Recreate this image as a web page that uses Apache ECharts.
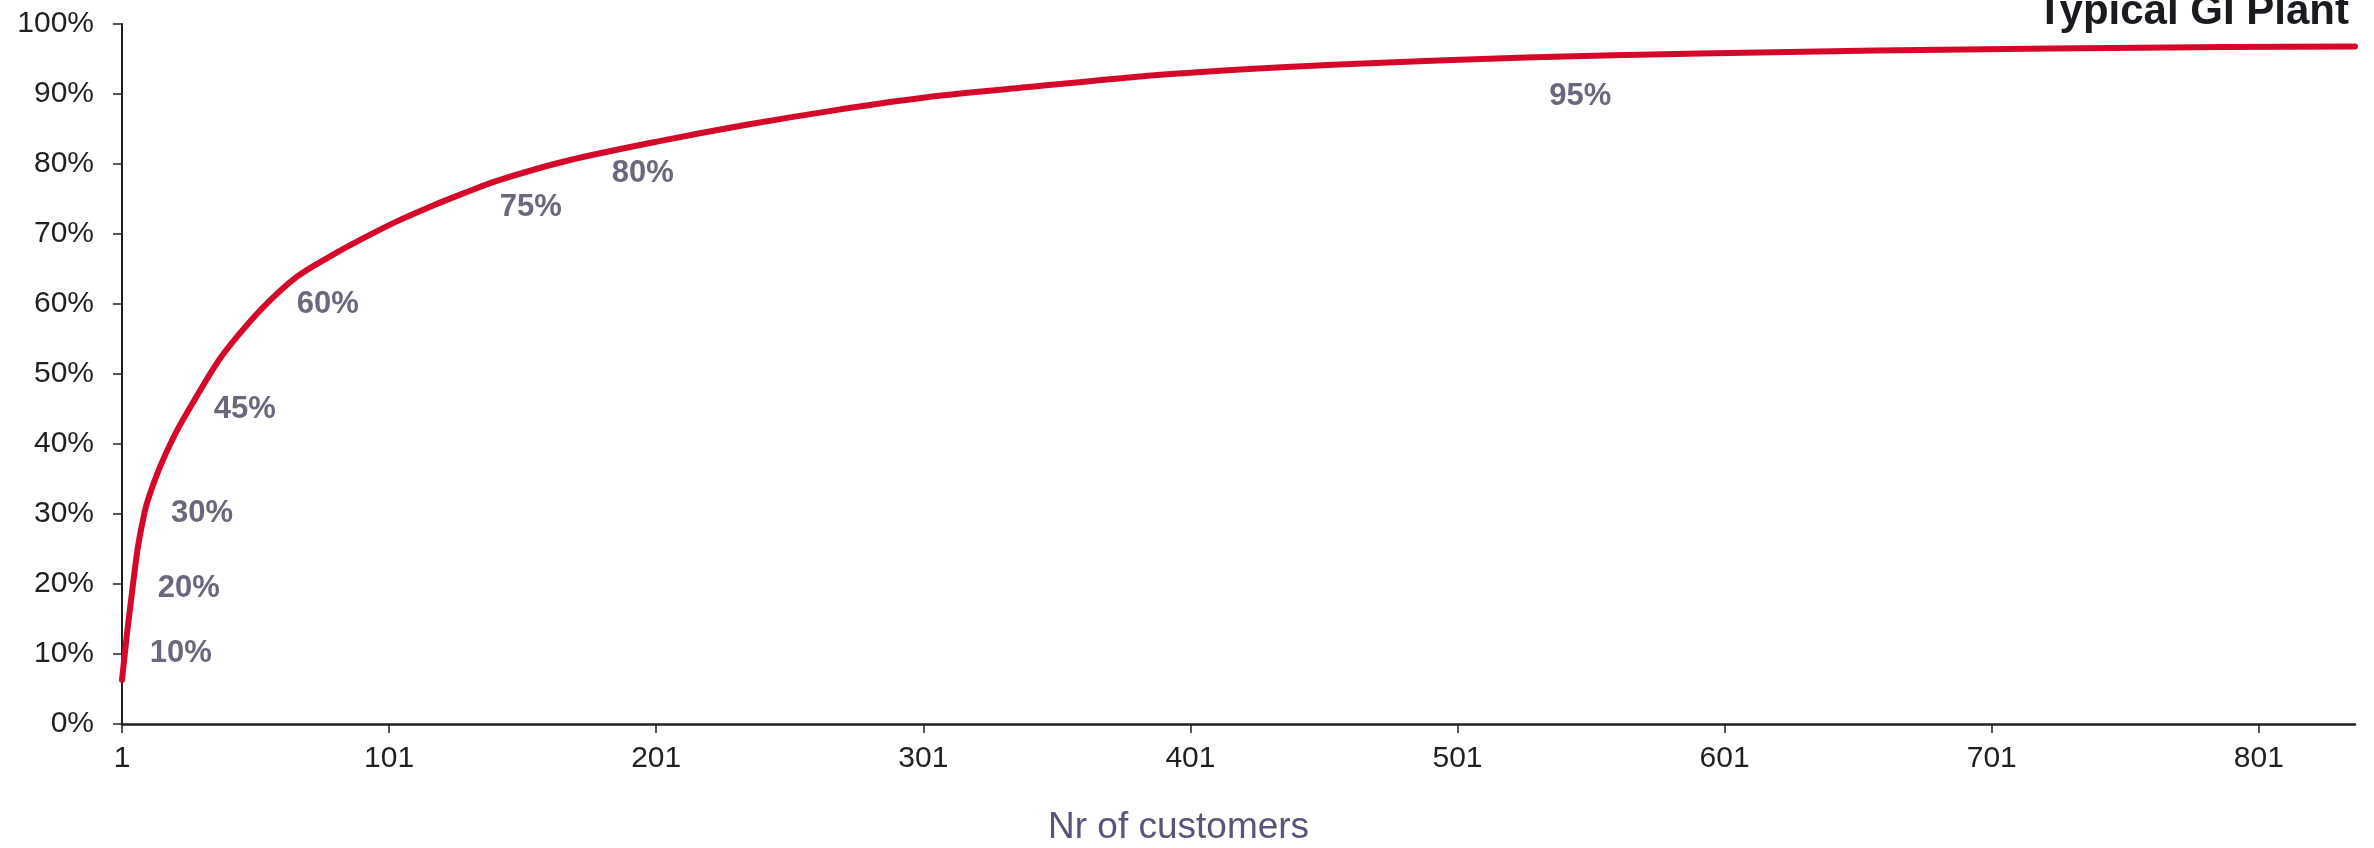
<!DOCTYPE html>
<html>
<head>
<meta charset="utf-8">
<script src="https://cdn.jsdelivr.net/npm/echarts@6/dist/echarts.min.js"></script>
<style>
html,body{margin:0;padding:0;background:#fff;}
#chart{width:2374px;height:848px;}
</style>
</head>
<body>
<div id="chart"></div>
<script>
// Customer number (x) and cumulative share % (y) of the curve
var customers = [1, 2.9, 4.4, 6.8, 9.1, 10.7, 15.3, 21, 26.6, 36.6, 44.0, 54.0, 66.5, 78.9, 91.4, 103.9, 116.4, 128.8, 141.3, 168, 201.3, 234.8, 268.2, 301.6, 329.7, 395, 461, 526.5, 592, 657.7, 723, 789, 837];
var cumulativeShare = [6.3, 13.0, 17.7, 24.9, 29.6, 32.0, 36.8, 41.5, 45.3, 51.6, 55.3, 59.6, 63.9, 66.8, 69.4, 71.8, 73.9, 75.8, 77.6, 80.5, 83.2, 85.6, 87.7, 89.5, 90.6, 92.9, 94.3, 95.2, 95.8, 96.2, 96.5, 96.7, 96.8];

// Annotation labels (anchored in data units)
var labelText = ['10%', '20%', '30%', '45%', '60%', '75%', '80%', '95%'];
var labelX = [23, 26, 31, 47, 78, 154, 196, 547];
var labelY = [10.1, 19.4, 30.1, 45.0, 59.9, 73.8, 78.7, 89.6];

// Axis ticks
var xTicks = [1, 101, 201, 301, 401, 501, 601, 701, 801];
var xMin = 1, xMax = 837;
var yMin = 0, yMax = 100, yStep = 10;

var titleText = 'Typical GI Plant';
var xAxisName = 'Nr of customers';

var lineData = customers.map(function (c, i) { return [c, cumulativeShare[i]]; });
var labelData = labelX.map(function (x, i) { return { value: [x, labelY[i]], name: labelText[i] }; });

var chart = echarts.init(document.getElementById('chart'), null, { renderer: 'canvas' });
var axisColor = '#231f20';
chart.setOption({
  animation: false,
  backgroundColor: '#ffffff',
  textStyle: { fontFamily: 'Liberation Sans, Arial, sans-serif' },
  grid: { left: 122, right: 19, top: 24, bottom: 124, containLabel: false },
  title: {
    text: titleText,
    right: 25,
    top: -9,
    padding: 0,
    textStyle: { fontSize: 42, fontWeight: 'bold', color: '#1a1a1f', fontFamily: 'Liberation Sans, Arial, sans-serif' }
  },
  graphic: [{
    type: 'text',
    left: 1048,
    top: 809,
    style: { text: xAxisName, font: '37px "Liberation Sans", Arial, sans-serif', fill: '#57557a' }
  }],
  xAxis: {
    type: 'value',
    min: xMin,
    max: xMax,
    splitLine: { show: false },
    axisLine: { show: true, onZero: false, lineStyle: { color: axisColor, width: 2.5 } },
    axisTick: { show: true, length: 9, lineStyle: { color: axisColor, width: 1.5 }, customValues: xTicks },
    axisLabel: { customValues: xTicks, fontSize: 30, color: axisColor, margin: 20, fontFamily: 'Liberation Sans, Arial, sans-serif' }
  },
  yAxis: {
    type: 'value',
    min: yMin,
    max: yMax,
    interval: yStep,
    splitLine: { show: false },
    axisLine: { show: true, lineStyle: { color: axisColor, width: 2 } },
    axisTick: { show: true, length: 9, lineStyle: { color: axisColor, width: 1.5 } },
    axisLabel: { formatter: '{value}%', fontSize: 30, color: axisColor, margin: 28, fontFamily: 'Liberation Sans, Arial, sans-serif' }
  },
  series: [
    {
      type: 'line',
      data: lineData,
      smooth: 0.3,
      showSymbol: false,
      lineStyle: { color: '#d6082a', width: 6, cap: 'round', join: 'round' },
      z: 3
    },
    {
      type: 'scatter',
      data: labelData,
      symbolSize: 0,
      silent: true,
      label: {
        show: true,
        position: 'inside',
        formatter: function (p) { return p.name; },
        fontSize: 31,
        fontWeight: 'bold',
        color: '#44425c',
        fontFamily: 'Liberation Sans, Arial, sans-serif'
      },
      z: 4
    }
  ]
});
</script>
</body>
</html>
